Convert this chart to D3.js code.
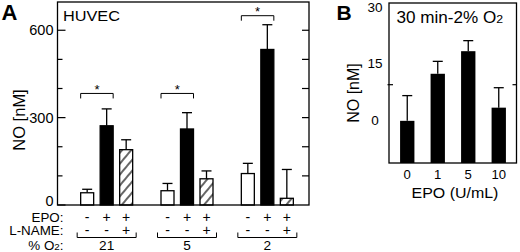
<!DOCTYPE html>
<html>
<head>
<meta charset="utf-8">
<script src="https://cdn.jsdelivr.net/npm/d3@7"></script>
<style>
  body { margin: 0; background: #fff; }
  svg { display: block; font-family: "Liberation Sans", Arial, sans-serif; }
</style>
</head>
<body>
<svg id="chart" width="520" height="252"></svg>
<script>
// Panel A data: HUVEC, NO [nM] by % O2 group
const o2Groups = ["21", "5", "2"];
const epoSigns = ["-", "+", "+"];
const lnameSigns = ["-", "-", "+"];
const meansA = [[42, 272, 190], [49, 261, 90], [108, 534, 23]];
const errorsA = [[12, 58, 34], [25, 56, 27], [35, 85, 99]];
const bracketA = [383, 383, 650];  // height of the significance bracket (ctrl vs EPO)
const majorTicksA = [0, 300, 600];
const minorTicksA = [100, 200, 400, 500];

// Panel B data: 30 min-2% O2
const epoDoses = ["0", "1", "5", "10"];
const meansB = [0, 12.5, 18.5, 3.5];
const errorsB = [6.7, 3.3, 2.8, 5.3];
const tickLabelsB = [0, 15, 30];
const tickMarksB = [9.6];

const svg = d3.select("#chart");
const black = "#000";

// text placed at (x,y), optionally widened a little to match the figure's lettering
function label(g, x, y, txt, size, anchor, sx) {
  return g.append("text")
      .attr("transform", `translate(${x},${y}) scale(${sx || 1},1)`)
      .attr("text-anchor", anchor || "start")
      .attr("font-size", size)
      .text(txt);
}

// hatch pattern for the L-NAME bars
svg.append("defs").append("pattern")
    .attr("id", "hatch")
    .attr("patternUnits", "userSpaceOnUse")
    .attr("width", 7).attr("height", 10)
    .attr("patternTransform", "rotate(40)")
    .append("line")
    .attr("x1", 1).attr("y1", 0).attr("x2", 1).attr("y2", 10)
    .attr("stroke", black).attr("stroke-width", 1.2);

// ---------- Panel A ----------
const A = {left: 57.5, right: 309, top: 2, bottom: 205};
const yA = d3.scaleLinear().domain([0, 697]).range([A.bottom, A.top]);
const xA = d3.scaleBand().domain(o2Groups).range([66.5, 307.5]);
const xIn = d3.scaleBand().domain([0, 1, 2]).range([-29.25, 29.25])
    .paddingInner(1 / 3).paddingOuter(1 / 6);
const fills = ["#fff", black, "url(#hatch)"];

const gA = svg.append("g");

o2Groups.forEach((g, gi) => {
  const cx = xA(g) + xA.bandwidth() / 2;
  meansA[gi].forEach((v, i) => {
    const x0 = cx + xIn(i);
    const bc = x0 + xIn.bandwidth() / 2;
    const top = yA(v + errorsA[gi][i]);
    // error bar (upward only)
    gA.append("line").attr("x1", bc).attr("x2", bc)
        .attr("y1", yA(v)).attr("y2", top)
        .attr("stroke", black).attr("stroke-width", 1.3);
    gA.append("line").attr("x1", bc - 5).attr("x2", bc + 5)
        .attr("y1", top).attr("y2", top)
        .attr("stroke", black).attr("stroke-width", 1.3);
    gA.append("rect")
        .attr("x", x0).attr("width", xIn.bandwidth())
        .attr("y", yA(v)).attr("height", yA(0) - yA(v))
        .attr("fill", fills[i]).attr("stroke", black).attr("stroke-width", 1.3);
  });

  // significance bracket
  const bx0 = cx + xIn(0), bx1 = cx + xIn(1) + xIn.bandwidth();
  const by = yA(bracketA[gi]);
  gA.append("path")
      .attr("d", `M${bx0},${by + 5}V${by}H${bx1}V${by + 5}`)
      .attr("fill", "none").attr("stroke", black).attr("stroke-width", 1);
  label(gA, (bx0 + bx1) / 2, by + 0.5, "*", 13, "middle");

  // condition signs below axis
  [0, 1, 2].forEach(i => {
    const bc = cx + xIn(i) + xIn.bandwidth() / 2;
    label(gA, bc, 222, epoSigns[i], 14, "middle");
    label(gA, bc, 234.5, lnameSigns[i], 14, "middle");
  });
  gA.append("path")
      .attr("d", `M${cx - 29.5},232.5V237.5H${cx + 29.5}V232.5`)
      .attr("fill", "none").attr("stroke", black).attr("stroke-width", 1);
  label(gA, cx, 250.2, g, 13, "middle", 1.05);
});

// frame
gA.append("rect")
    .attr("x", A.left).attr("y", A.top)
    .attr("width", A.right - A.left).attr("height", A.bottom - A.top)
    .attr("fill", "none").attr("stroke", black).attr("stroke-width", 1.3);

// ticks (inward, both sides)
majorTicksA.concat(minorTicksA).forEach(t => {
  const len = majorTicksA.includes(t) ? 8 : 5;
  gA.append("line").attr("x1", A.left).attr("x2", A.left + len)
      .attr("y1", yA(t)).attr("y2", yA(t)).attr("stroke", black).attr("stroke-width", 1.2);
  if (t > 0) {
    gA.append("line").attr("x1", A.right - 7).attr("x2", A.right)
        .attr("y1", yA(t)).attr("y2", yA(t)).attr("stroke", black).attr("stroke-width", 1.2);
  }
});
majorTicksA.forEach(t => {
  label(gA, 53.5, yA(t) + 5.2 - (t === 0 ? 4 : 0), t, 14.5, "end");
});

label(gA, 63, 21, "HUVEC", 15.5, "start", 1.05);
gA.append("text").attr("x", 1.5).attr("y", 20).attr("font-size", 22)
    .attr("font-weight", "bold").text("A");
gA.append("text").attr("transform", "translate(24.5,120) rotate(-90)")
    .attr("text-anchor", "middle").attr("font-size", 16.5).text("NO [nM]");

label(gA, 63.5, 222.2, "EPO:", 13, "end", 1.03);
label(gA, 63.5, 234.6, "L-NAME:", 13, "end", 1.03);
const o2lab = label(gA, 63.5, 250.2, "", 13, "end", 1.03);
o2lab.append("tspan").text("% O");
o2lab.append("tspan").attr("font-size", 9.5).text("2");
o2lab.append("tspan").text(":");

// ---------- Panel B ----------
const B = {left: 389, right: 516.5, top: 3, bottom: 163};
const yB = d3.scaleLinear().domain([-11.2, 31.3]).range([B.bottom, B.top]);
const xB = d3.scaleBand().domain(epoDoses).range([392, 514])
    .paddingInner(0.53).paddingOuter(0.265);

const gB = svg.append("g");

epoDoses.forEach((d, i) => {
  const bc = xB(d) + xB.bandwidth() / 2;
  const top = yB(meansB[i] + errorsB[i]);
  gB.append("line").attr("x1", bc).attr("x2", bc)
      .attr("y1", yB(meansB[i])).attr("y2", top)
      .attr("stroke", black).attr("stroke-width", 1.3);
  gB.append("line").attr("x1", bc - 5).attr("x2", bc + 5)
      .attr("y1", top).attr("y2", top)
      .attr("stroke", black).attr("stroke-width", 1.3);
  gB.append("rect")
      .attr("x", xB(d)).attr("width", xB.bandwidth())
      .attr("y", yB(meansB[i])).attr("height", yB(yB.domain()[0]) - yB(meansB[i]))
      .attr("fill", black);
  label(gB, bc, 178.5, d, 12.5, "middle", 1.05);
});

gB.append("rect")
    .attr("x", B.left).attr("y", B.top)
    .attr("width", B.right - B.left).attr("height", B.bottom - B.top)
    .attr("fill", "none").attr("stroke", black).attr("stroke-width", 1.3);

tickMarksB.forEach(t => {
  gB.append("line").attr("x1", B.left - 1.5).attr("x2", B.left + 4)
      .attr("y1", yB(t)).attr("y2", yB(t)).attr("stroke", black).attr("stroke-width", 1.2);
  gB.append("line").attr("x1", B.right - 4).attr("x2", B.right)
      .attr("y1", yB(t)).attr("y2", yB(t)).attr("stroke", black).attr("stroke-width", 1.2);
});
tickLabelsB.forEach(t => {
  label(gB, 375, yB(t) + 4.1, t, 13.5, "middle");
});

gB.append("text").attr("x", 336.5).attr("y", 20).attr("font-size", 21)
    .attr("font-weight", "bold").text("B");
gB.append("text").attr("transform", "translate(358.5,93) rotate(-90)")
    .attr("text-anchor", "middle").attr("font-size", 16).text("NO [nM]");
label(gB, 455, 197.5, "EPO (U/mL)", 15.5, "middle", 1.03);
const cond = label(gB, 396.5, 22.5, "", 16, "start", 1.07);
cond.append("tspan").text("30 min-2% O");
cond.append("tspan").attr("font-size", 11.5).attr("dy", 0.5).text("2");
</script>
</body>
</html>
